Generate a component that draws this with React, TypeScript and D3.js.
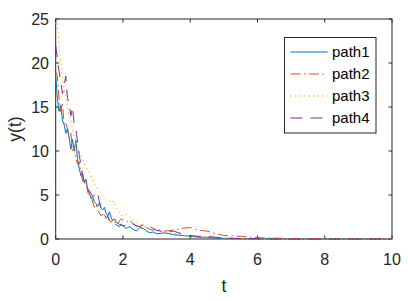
import { useEffect, useRef } from 'react'
import * as d3 from 'd3'

// shared time grid (denser where the paths move fast)
const T = [
  0, 0.05, 0.1, 0.15, 0.2, 0.25, 0.3, 0.35, 0.4, 0.45, 0.5, 0.55, 0.6, 0.65, 0.7, 0.75, 0.8, 0.85, 0.9, 0.95,
  1, 1.05, 1.1, 1.15, 1.2, 1.25, 1.3, 1.35, 1.4, 1.45, 1.5, 1.55, 1.6, 1.65, 1.7, 1.75, 1.8, 1.85, 1.9, 1.95,
  2, 2.1, 2.2, 2.3, 2.4, 2.5, 2.6, 2.7, 2.8, 2.9, 3, 3.25, 3.5, 3.75, 4, 4.25, 4.5, 4.75, 5, 5.5, 6, 7, 8, 9, 10,
]

const path1 = [
  18.5, 16, 14.5, 15.2, 13.5, 13, 12, 12.6, 11.5, 10.2, 11.3, 10, 11.2, 9, 8, 7.2, 7.5, 6.4, 6.8, 5.6,
  5.2, 4.6, 4.8, 4.2, 4.0, 3.7, 4.1, 3.5, 3.3, 3.6, 2.9, 2.6, 3.1, 2.4, 2.1, 2.3, 1.9, 1.8, 1.6, 1.7,
  1.5, 1.2, 1.4, 1.1, 0.9, 1.3, 1.2, 0.9, 0.7, 0.8, 0.6, 0.7, 0.5, 0.4, 0.3, 0.2, 0.2, 0.1, 0.08, 0.05, 0.03, 0.01, 0, 0, 0,
]
const path2 = [
  19, 18.5, 16, 14.5, 15.5, 13, 13.2, 12.5, 11.5, 12, 10, 10.5, 9.2, 8.5, 8.8, 7.5, 6.6, 6.2, 6.5, 5.4,
  4.8, 5.0, 4.2, 3.6, 3.9, 3.2, 3.0, 2.6, 2.8, 2.4, 2.2, 2.5, 2.1, 1.9, 2.2, 1.8, 2.0, 1.7, 2.1, 2.3,
  2.1, 1.9, 2.2, 1.7, 1.5, 1.4, 1.2, 1.3, 1.1, 1.0, 1.1, 0.9, 1.0, 1.2, 1.3, 1.0, 0.9, 0.6, 0.4, 0.3, 0.15, 0.05, 0.02, 0, 0,
]
const path3 = [
  24.5, 25, 22, 20, 18.5, 17, 16, 15, 14, 13.5, 12.5, 11.8, 11, 10.2, 9.8, 9.5, 9.0, 8.6, 8.2, 7.8,
  7.5, 7.0, 6.6, 6.2, 6.0, 5.6, 5.4, 5.2, 5.0, 4.9, 4.6, 4.5, 4.3, 4.1, 4.3, 4.0, 3.5, 3.2, 3.0, 2.8,
  2.6, 2.8, 2.5, 2.2, 1.9, 1.7, 1.5, 1.4, 1.2, 1.0, 0.9, 0.8, 0.6, 0.5, 0.3, 0.25, 0.2, 0.15, 0.1, 0.05, 0.02, 0, 0, 0, 0,
]
const path4 = [
  22, 20.5, 19, 18, 16.5, 17.5, 18.5, 16, 15.5, 14, 15, 13, 12.5, 11, 9.5, 8.5, 7.2, 6.5, 6.0, 5.8,
  5.5, 5.2, 4.8, 5.0, 5.4, 5.1, 4.2, 3.6, 3.0, 2.7, 2.4, 2.6, 2.1, 1.9, 1.6, 1.8, 1.6, 1.5, 1.4, 1.6,
  1.5, 1.6, 1.8, 1.7, 1.5, 1.4, 1.6, 1.3, 1.4, 1.2, 1.0, 0.8, 0.9, 0.6, 0.4, 0.3, 0.3, 0.2, 0.1, 0.05, 0.02, 0, 0, 0, 0,
]

const seriesNames = ['path1', 'path2', 'path3', 'path4']
const seriesValues = [path1, path2, path3, path4]
const colors = ['#0072BD', '#D95319', '#EDB120', '#7E2F8E']
const dashes = ['none', '10,3.5,1.5,3.5', '1.5,3', '12,8']

const xTicks = [0, 2, 4, 6, 8, 10]
const yTicks = [0, 5, 10, 15, 20, 25]

export default function App() {
  const svgRef = useRef<SVGSVGElement>(null)

  useEffect(() => {
    const svg = d3.select(svgRef.current)
    svg.selectAll('*').remove()

    const left = 55.7
    const right = 392
    const top = 19
    const bottom = 239
    const axisColor = '#262626'
    const font = 'Liberation Sans, Arial, Helvetica, sans-serif'

    const x = d3.scaleLinear().domain([0, 10]).range([left, right])
    const y = d3.scaleLinear().domain([0, 25]).range([bottom, top])

    svg.append('rect').attr('width', 408).attr('height', 301).attr('fill', '#fff')

    // axes box
    svg
      .append('rect')
      .attr('x', left)
      .attr('y', top)
      .attr('width', right - left)
      .attr('height', bottom - top)
      .attr('fill', '#fff')
      .attr('stroke', axisColor)
      .attr('stroke-width', 1)

    // ticks on all four sides, pointing inward
    const tl = 3.5
    const ticks = svg.append('g').attr('stroke', axisColor).attr('stroke-width', 1)
    xTicks.forEach((t) => {
      ticks.append('line').attr('x1', x(t)).attr('x2', x(t)).attr('y1', bottom).attr('y2', bottom - tl)
      ticks.append('line').attr('x1', x(t)).attr('x2', x(t)).attr('y1', top).attr('y2', top + tl)
    })
    yTicks.forEach((v) => {
      ticks.append('line').attr('x1', left).attr('x2', left + tl).attr('y1', y(v)).attr('y2', y(v))
      ticks.append('line').attr('x1', right).attr('x2', right - tl).attr('y1', y(v)).attr('y2', y(v))
    })

    // tick labels
    svg
      .append('g')
      .selectAll('text')
      .data(xTicks)
      .join('text')
      .attr('x', (d) => x(d))
      .attr('y', 265)
      .attr('text-anchor', 'middle')
      .attr('font-family', font)
      .attr('font-size', 16)
      .attr('fill', axisColor)
      .text((d) => d)

    svg
      .append('g')
      .selectAll('text')
      .data(yTicks)
      .join('text')
      .attr('x', 49)
      .attr('y', (d) => y(d) + 6)
      .attr('text-anchor', 'end')
      .attr('font-family', font)
      .attr('font-size', 16)
      .attr('fill', axisColor)
      .text((d) => d)

    // axis labels
    svg
      .append('text')
      .attr('x', (left + right) / 2)
      .attr('y', 292)
      .attr('text-anchor', 'middle')
      .attr('font-family', font)
      .attr('font-size', 17.5)
      .attr('fill', axisColor)
      .text('t')

    svg
      .append('text')
      .attr('transform', `translate(21,${(top + bottom) / 2}) rotate(-90)`)
      .attr('text-anchor', 'middle')
      .attr('font-family', font)
      .attr('font-size', 17.5)
      .attr('fill', axisColor)
      .text('y(t)')

    // data lines
    svg
      .append('clipPath')
      .attr('id', 'plot-clip')
      .append('rect')
      .attr('x', left - 1)
      .attr('y', top - 1)
      .attr('width', right - left + 2)
      .attr('height', bottom - top + 2)

    const line = d3
      .line<number>()
      .x((_, i) => x(T[i]))
      .y((d) => y(d))

    const plot = svg.append('g').attr('clip-path', 'url(#plot-clip)')
    seriesValues.forEach((vals, i) => {
      plot
        .append('path')
        .attr('d', line(vals))
        .attr('fill', 'none')
        .attr('stroke', colors[i])
        .attr('stroke-width', 1)
        .attr('stroke-dasharray', dashes[i])
    })

    // legend
    const lg = svg.append('g')
    lg.append('rect')
      .attr('x', 284.5)
      .attr('y', 37.5)
      .attr('width', 91.5)
      .attr('height', 95.5)
      .attr('fill', '#fff')
      .attr('stroke', axisColor)
      .attr('stroke-width', 1)

    seriesNames.forEach((name, i) => {
      const ly = 52 + i * 22
      lg.append('line')
        .attr('x1', 290.5)
        .attr('x2', 327.5)
        .attr('y1', ly)
        .attr('y2', ly)
        .attr('stroke', colors[i])
        .attr('stroke-width', 1)
        .attr('stroke-dasharray', dashes[i])
      lg.append('text')
        .attr('x', 332)
        .attr('y', ly + 5)
        .attr('font-family', font)
        .attr('font-size', 15)
        .attr('fill', '#000')
        .text(name)
    })
  }, [])

  return (
    <svg
      ref={svgRef}
      width={408}
      height={301}
      style={{ position: 'absolute', left: 0, top: 0 }}
    />
  )
}
